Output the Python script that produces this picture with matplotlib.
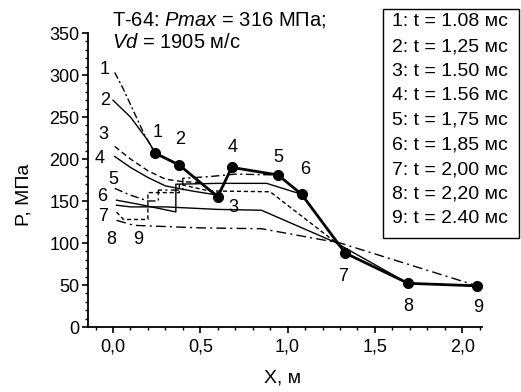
import matplotlib
matplotlib.use("Agg")
import matplotlib.pyplot as plt
from matplotlib.patches import Rectangle
from matplotlib.ticker import MultipleLocator

plt.rcParams['font.family'] = ['Liberation Sans', 'DejaVu Sans']
plt.rcParams['mathtext.fontset'] = 'custom'
plt.rcParams['mathtext.rm'] = 'Liberation Sans'
plt.rcParams['mathtext.it'] = 'Liberation Sans:italic'

# ---- data ----
env_x = [0.24, 0.378, 0.60, 0.68, 0.945, 1.08, 1.33, 1.69, 2.085]
env_y = [207, 193, 155, 190, 181, 158, 88, 52, 49]
env_labels = ["1", "2", "3", "4", "5", "6", "7", "8", "9"]

c1_x = [0.01, 0.06, 0.12, 0.18, 0.24]
c1_y = [303, 283, 256, 229, 207]
c2_x = [0.0, 0.1, 0.2, 0.24, 0.378]
c2_y = [270, 250, 222, 208, 193]
c3_x = [0.01, 0.1, 0.2, 0.3, 0.4, 0.5, 0.6]
c3_y = [215, 200, 186, 176, 173, 172, 156]
c4_x = [0.01, 0.1, 0.2, 0.3, 0.45, 0.6, 0.68]
c4_y = [203, 190, 178, 168, 162, 157, 190]
c5_x = [0.01, 0.1, 0.2, 0.26, 0.26, 0.4, 0.4, 0.55, 0.7, 0.945]
c5_y = [165, 157, 150, 150, 163, 163, 177, 179, 182, 181]
c6_x = [0.02, 0.15, 0.36, 0.36, 0.6, 0.88, 1.08]
c6_y = [151, 146, 137, 170, 171, 171, 158]
c7_x = [0.02, 0.06, 0.2, 0.2, 0.38, 0.38, 0.55, 0.9, 1.28, 1.33]
c7_y = [137, 128, 128, 160, 160, 170, 162, 161, 100, 88]
c8_x = [0.02, 0.1, 0.3, 0.6, 0.85, 1.27, 1.69]
c8_y = [145, 143, 143, 140, 139, 101, 52]
c9_x = [0.02, 0.12, 0.5, 0.85, 1.3, 2.085]
c9_y = [127, 121, 118, 117, 100, 49]

curve_labels = ["1", "2", "3", "4", "5", "6", "7", "8", "9"]
legend_rows = ["1: t = 1.08 мс", "2: t = 1,25 мс", "3: t = 1.50 мс",
               "4: t = 1.56 мс", "5: t = 1,75 мс", "6: t = 1,85 мс",
               "7: t = 2,00 мс", "8: t = 2,20 мс", "9: t = 2.40 мс"]

x_ticks = [0.0, 0.5, 1.0, 1.5, 2.0]
x_ticklabels = ["0,0", "0,5", "1,0", "1,5", "2,0"]
y_ticks = [0, 50, 100, 150, 200, 250, 300, 350]

W, H = 521, 392
fig = plt.figure(figsize=(W / 100, H / 100), dpi=100)
ax = fig.add_axes([88 / W, 1 - 327 / H, (482 - 88) / W, (327 - 33) / H])

curves = [(c1_x, c1_y, (0, (5, 2, 1.5, 2))),
          (c2_x, c2_y, '-'),
          (c3_x, c3_y, (0, (4, 2.5))),
          (c4_x, c4_y, '-'),
          (c5_x, c5_y, (0, (6, 2.5, 1.5, 2.5))),
          (c6_x, c6_y, '-'),
          (c7_x, c7_y, (0, (3, 2))),
          (c8_x, c8_y, '-'),
          (c9_x, c9_y, (0, (7, 3, 1.5, 3)))]
for cx, cy, ls in curves:
    ax.plot(cx, cy, color='black', lw=1.0, linestyle=ls)

ax.plot(env_x, env_y, color='black', lw=2.0, marker='o', markersize=7,
        zorder=5)

lab_fs = 13
left_pos = [(-0.046, 306), (-0.046, 270), (-0.057, 229), (-0.074, 201),
            (0.0, 175), (-0.063, 155), (-0.057, 131), (-0.011, 104),
            (0.143, 104)]
for (px, py), t in zip(left_pos, curve_labels):
    ax.text(px, py, t, fontsize=lab_fs, ha='center', va='center')
env_pos = [(0.258, 232), (0.384, 223), (0.687, 142), (0.687, 214),
           (0.945, 202), (1.10, 187), (1.317, 60), (1.69, 24), (2.09, 23)]
for (px, py), t in zip(env_pos, env_labels):
    ax.text(px, py, t, fontsize=lab_fs, ha='center', va='center')

ax.set_xlim(-0.143, 2.113)
ax.set_ylim(0, 350)
ax.set_xticks(x_ticks)
ax.set_xticklabels(x_ticklabels)
ax.set_yticks(y_ticks)
ax.xaxis.set_minor_locator(MultipleLocator(0.1))
ax.yaxis.set_minor_locator(MultipleLocator(10))
for s in ['top', 'right']:
    ax.spines[s].set_visible(False)
for s in ['left', 'bottom']:
    ax.spines[s].set_linewidth(1.3)
ax.tick_params(which='major', direction='out', length=4, width=1.2,
               labelsize=13, pad=2)
ax.tick_params(which='minor', direction='out', length=2.2, width=1.0)
ax.tick_params(axis='x', which='major', pad=4)

ax.set_xlabel("X, м", fontsize=14)
ax.xaxis.set_label_coords(0.495, -0.145)
ax.set_ylabel("P, МПа", fontsize=14)
ax.yaxis.set_label_coords(-0.14, 0.45)

fig.text(112 / W, 1 - 20 / H, r"T-64: $\mathit{Pmax}$ = 316 МПа;",
         fontsize=14.5, ha='left', va='center')
fig.text(112 / W, 1 - 42 / H, r"$\mathit{Vd}$ = 1905 м/с",
         fontsize=14.5, ha='left', va='center')

fig.patches.append(Rectangle((383 / W, 1 - 238 / H), (519 - 383) / W,
                             (238 - 9) / H, transform=fig.transFigure,
                             fill=True, facecolor='white', edgecolor='black',
                             lw=1.0, zorder=0))
for i, row in enumerate(legend_rows):
    fig.text(392 / W, 1 - (22 + i * 24.6) / H, row, fontsize=14,
             ha='left', va='center')

fig.savefig("out.png", dpi=100)
